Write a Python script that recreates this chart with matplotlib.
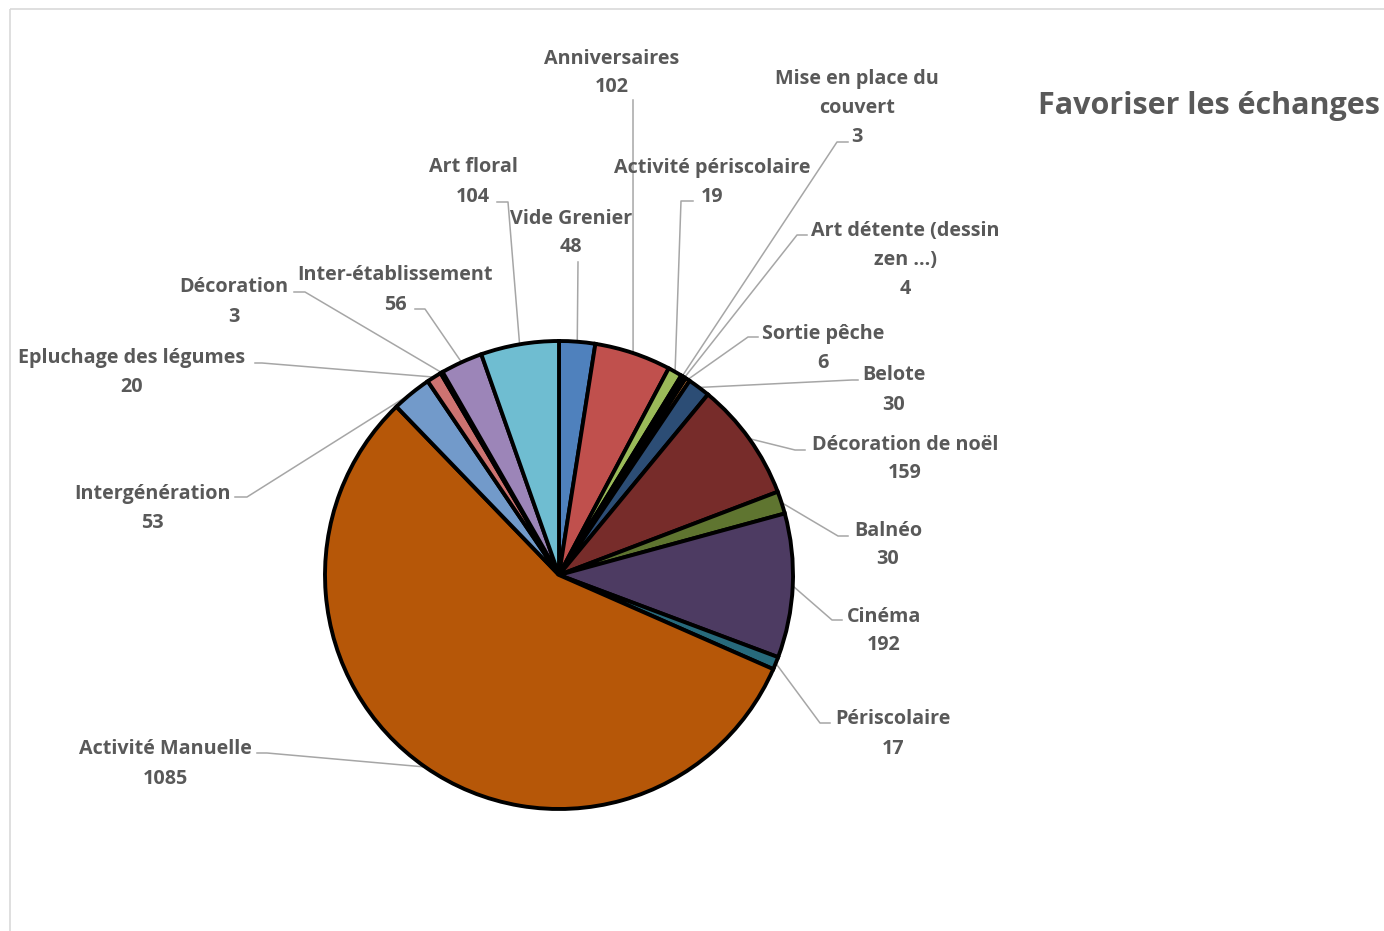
import numpy as np
import matplotlib
matplotlib.use("Agg")
import matplotlib.pyplot as plt
from matplotlib.patches import Rectangle

# data, clockwise from 12 o'clock
labels = ["Vide Grenier", "Anniversaires", "Activité périscolaire",
          "Mise en place du\ncouvert", "Art détente (dessin\nzen ...)", "Sortie pêche",
          "Belote", "Décoration de noël", "Balnéo", "Cinéma", "Périscolaire",
          "Activité Manuelle", "Intergénération", "Epluchage des légumes",
          "Décoration", "Inter-établissement", "Art floral"]
values = [48, 102, 19, 3, 4, 6, 30, 159, 30, 192, 17, 1085, 53, 20, 3, 56, 104]
colors = ["#4F81BD", "#C0504D", "#9BBB59", "#8064A2", "#4BACC6", "#F79646",
          "#2C4D75", "#772C2A", "#5F7530", "#4D3B62", "#276A7C", "#B65708",
          "#729ACA", "#CD7371", "#AFC97A", "#9C85B8", "#6FBDD1"]

# label layout (pixel coords): block centre, leader elbow, leader end
label_pos = [(571, 233), (612, 73), (712, 182), (857, 108), (905, 260), (823, 348),
             (894, 390), (905, 459), (888, 545), (884, 631), (893, 734), (165, 764),
             (152, 508), (132, 373), (234, 302), (395, 290), (473, 182)]
elbows = [(578, 262), (633, 100), (681, 201), (837, 142), (797, 235), (748, 337),
          (852, 380), (795, 450), (838, 536), (832, 620), (820, 723), (267, 753),
          (247, 497), (262, 363), (305, 292), (425, 309), (508, 202)]
ends = [(578, 262), (633, 100), (693, 201), (848, 142), (807, 235), (758, 337),
        (858, 380), (805, 450), (848, 536), (842, 620), (830, 723), (257, 753),
        (235, 497), (255, 363), (294, 292), (415, 309), (497, 202)]

W, H = 1384, 931
cx, cy, r = 559, 575, 234
grey = "#595959"

fig = plt.figure(figsize=(W / 100, H / 100), dpi=100)
ax = fig.add_axes([0, 0, 1, 1])

# y is flipped, so counterclock in data = clockwise on screen
ax.pie(values, colors=colors, startangle=-90, counterclock=True,
       center=(cx, cy), radius=r, frame=True,
       wedgeprops=dict(edgecolor="black", linewidth=2.8))

ax.set_xlim(0, W)
ax.set_ylim(H, 0)
ax.set_aspect("equal")
ax.axis("off")

# chart frame
ax.add_patch(Rectangle((10, 9), W + 20, H + 20, fill=False,
                       edgecolor="#D9D9D9", linewidth=1.2, clip_on=True))

total = sum(values)
cum = np.cumsum(values) - np.array(values) / 2
for i, lab in enumerate(labels):
    phi = np.deg2rad(90 - 360 * cum[i] / total)
    x0 = cx + r * np.cos(phi)
    y0 = cy - r * np.sin(phi)
    ax.plot([x0, elbows[i][0], ends[i][0]], [y0, elbows[i][1], ends[i][1]],
            color="#A6A6A6", linewidth=1.1, zorder=0.5)
    ax.text(label_pos[i][0], label_pos[i][1], f"{lab}\n{values[i]}",
            ha="center", va="center", fontsize=14.2, fontweight="bold",
            family="Open Sans", color=grey, linespacing=1.6)

ax.text(1209, 106, "Favoriser les échanges", ha="center", va="center",
        fontsize=22, fontweight="bold", family="Open Sans", color=grey)

fig.savefig("out.png", dpi=100)
